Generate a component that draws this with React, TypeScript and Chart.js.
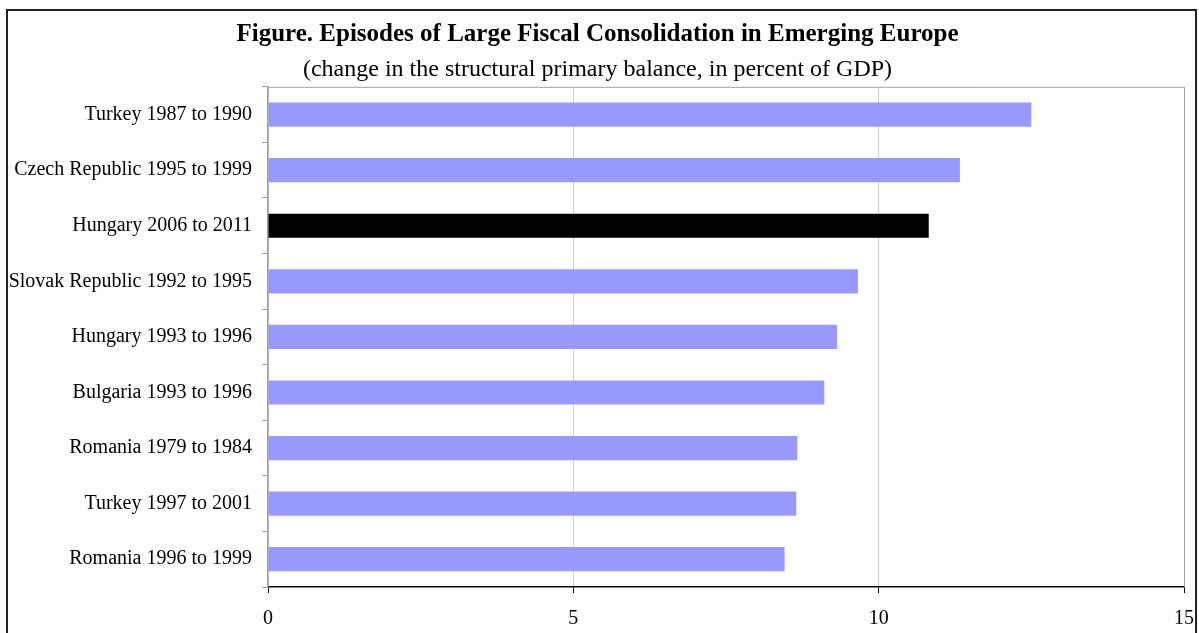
import React, { useEffect, useRef } from "react";
import { Chart, registerables } from "chart.js";

Chart.register(...registerables);

const categories = [
  "Turkey 1987 to 1990",
  "Czech Republic 1995 to 1999",
  "Hungary 2006 to 2011",
  "Slovak Republic 1992 to 1995",
  "Hungary 1993 to 1996",
  "Bulgaria 1993 to 1996",
  "Romania 1979 to 1984",
  "Turkey 1997 to 2001",
  "Romania 1996 to 1999",
];
const values = [12.5, 11.33, 10.82, 9.66, 9.32, 9.11, 8.67, 8.65, 8.46];
const highlighted = [false, false, true, false, false, false, false, false, false];
const xTicks = [0, 5, 10, 15];

const titleText = "Figure. Episodes of Large Fiscal Consolidation in Emerging Europe";
const subtitleText = "(change in the structural primary balance, in percent of GDP)";

const FONT = "'Liberation Serif', 'Times New Roman', serif";

const framePlugin = {
  id: "frame",
  beforeDraw(chart: any) {
    const ctx = chart.ctx;
    ctx.save();
    ctx.fillStyle = "#ffffff";
    ctx.fillRect(0, 0, chart.width, chart.height);
    ctx.strokeStyle = "#222222";
    ctx.lineWidth = 2;
    ctx.strokeRect(7, 10, 1189, chart.height + 20);
    ctx.restore();
  },
  beforeDatasetsDraw(chart: any) {
    const { ctx, chartArea } = chart;
    ctx.save();
    ctx.strokeStyle = "#a0a0a0";
    ctx.lineWidth = 1;
    ctx.beginPath();
    ctx.moveTo(chartArea.left, chartArea.top + 0.5);
    ctx.lineTo(chartArea.right + 0.5, chartArea.top + 0.5);
    ctx.lineTo(chartArea.right + 0.5, chartArea.bottom);
    ctx.stroke();
    ctx.restore();
  },
};

export default function App() {
  const ref = useRef<HTMLCanvasElement | null>(null);

  useEffect(() => {
    document.body.style.margin = "0";
    const canvas = ref.current;
    if (!canvas) return;
    const chart = new Chart(canvas, {
      type: "bar",
      data: {
        labels: categories,
        datasets: [
          {
            data: values,
            backgroundColor: highlighted.map((h) => (h ? "#000000" : "#9999ff")),
            borderWidth: 0,
            categoryPercentage: 1,
            barPercentage: 0.435,
          },
        ],
      },
      options: {
        indexAxis: "y",
        responsive: false,
        animation: false,
        devicePixelRatio: 1,
        layout: { padding: { left: 0, right: 4, top: 0, bottom: 0 } },
        plugins: {
          legend: { display: false },
          tooltip: { enabled: false },
          title: {
            display: true,
            text: titleText,
            color: "#000000",
            font: { family: FONT, size: 25, weight: "bold" },
            padding: { top: 20, bottom: 5 },
            align: "center",
          },
          subtitle: {
            display: true,
            text: subtitleText,
            color: "#000000",
            font: { family: FONT, size: 24, weight: "normal" },
            padding: { top: 0, bottom: 3 },
          },
        },
        scales: {
          x: {
            type: "linear",
            min: 0,
            max: 15,
            afterBuildTicks: (axis: any) => {
              axis.ticks = xTicks.map((v) => ({ value: v }));
            },
            afterFit: (axis: any) => {
              axis.height = 46;
              axis.paddingRight = 15;
              axis.paddingLeft = 0;
            },
            ticks: {
              color: "#000000",
              font: { family: FONT, size: 20 },
              padding: 14,
            },
            grid: {
              color: "#cccccc",
              tickColor: "#000000",
              tickLength: 6,
              lineWidth: 1,
            },
            border: { color: "#000000", width: 1.5 },
          },
          y: {
            type: "category",
            offset: true,
            afterFit: (axis: any) => {
              axis.width = 268;
            },
            ticks: {
              color: "#000000",
              font: { family: FONT, size: 20 },
              padding: 10,
              autoSkip: false,
            },
            grid: {
              offset: true,
              drawOnChartArea: false,
              tickColor: "#a0a0a0",
              tickLength: 6,
            },
            border: { color: "#a0a0a0", width: 1.5 },
          },
        },
      },
      plugins: [framePlugin],
    });
    return () => chart.destroy();
  }, []);

  return <canvas ref={ref} width={1199} height={633} style={{ display: "block" }} />;
}
